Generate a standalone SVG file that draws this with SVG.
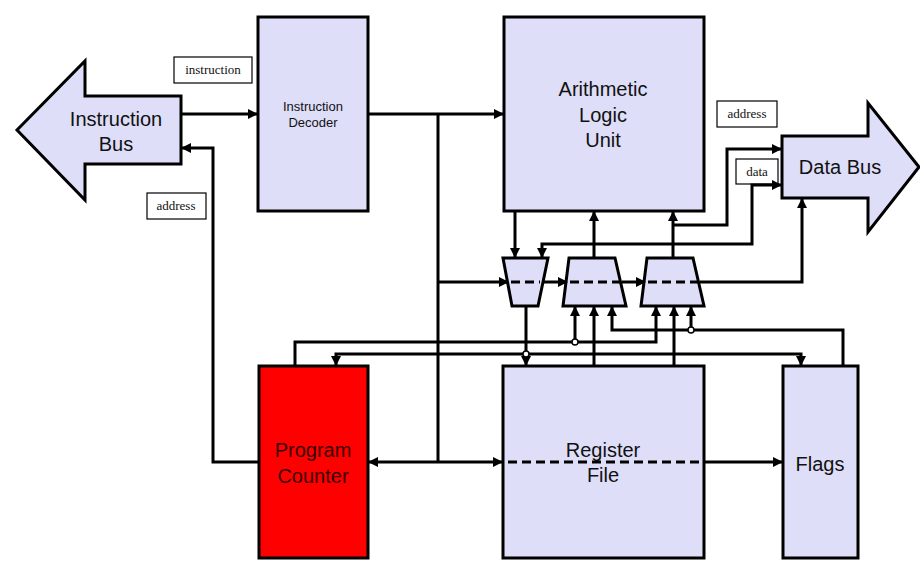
<svg xmlns="http://www.w3.org/2000/svg" width="920" height="572" viewBox="0 0 920 572">
<style>
.box{fill:#dedef8;stroke:#000;stroke-width:3}
.pc{fill:#ff0000;stroke:#000;stroke-width:3}
.lbl{fill:#fff;stroke:#000;stroke-width:1.2}
.t{font-family:"Liberation Sans",Arial,sans-serif;fill:#111;text-anchor:middle}
.s{font-family:"Liberation Serif","Times New Roman",serif;font-size:13px;fill:#111;text-anchor:middle}
.w{fill:none;stroke:#000;stroke-width:3}
.a{marker-end:url(#ah)}
.b{marker-start:url(#ah);marker-end:url(#ah)}
.d{fill:none;stroke:#000;stroke-width:3;stroke-dasharray:9 5}
.j{fill:#fff;stroke:#000;stroke-width:1.5}
</style>
<defs>
<marker id="ah" viewBox="0 0 10 10" refX="9" refY="5" markerWidth="10" markerHeight="10" markerUnits="userSpaceOnUse" orient="auto-start-reverse">
<path d="M0,0 L10,5 L0,10 z" fill="#000"/>
</marker>
</defs>
<rect width="920" height="572" fill="#fff"/>

<g id="instruction-bus">
<polygon class="box" points="17,130 85,61 85,96 181,96 181,164 85,164 85,200"/>
<text class="t" font-size="20" x="116" y="126">Instruction</text>
<text class="t" font-size="20" x="116" y="151">Bus</text>
</g>

<g id="instruction-decoder">
<rect class="box" x="258" y="17" width="110" height="194"/>
<text class="t" font-size="13" x="313" y="111">Instruction</text>
<text class="t" font-size="13" x="313" y="127">Decoder</text>
</g>

<g id="alu">
<rect class="box" x="504" y="17" width="200" height="194"/>
<text class="t" font-size="20" x="603" y="96">Arithmetic</text>
<text class="t" font-size="20" x="603" y="122">Logic</text>
<text class="t" font-size="20" x="603" y="147">Unit</text>
</g>

<g id="data-bus">
<polygon class="box" points="782,136 868,136 868,103 919,167 868,232 868,198 782,198"/>
<text class="t" font-size="20" x="840" y="174">Data Bus</text>
</g>

<g id="program-counter">
<rect class="pc" x="259" y="366" width="109" height="192"/>
<text class="t" font-size="20" x="313" y="457" style="fill:#3a0000">Program</text>
<text class="t" font-size="20" x="313" y="483" style="fill:#3a0000">Counter</text>
</g>

<g id="register-file">
<rect class="box" x="503" y="366" width="201" height="192"/>
<text class="t" font-size="20" x="603" y="457">Register</text>
<text class="t" font-size="20" x="603" y="482">File</text>
</g>

<g id="flags">
<rect class="box" x="783" y="366" width="75" height="192"/>
<text class="t" font-size="20" x="820" y="471">Flags</text>
</g>

<g id="mux1">
<polygon class="box" points="503,258 548,258 538,306 512,306"/>
</g>
<g id="mux2">
<polygon class="box" points="569,258 615,258 626,306 563,306"/>
</g>
<g id="mux3">
<polygon class="box" points="647,258 693,258 704,306 641,306"/>
</g>

<g id="labels">
<rect class="lbl" x="174" y="57" width="78" height="26"/>
<text class="s" x="213" y="74">instruction</text>
<rect class="lbl" x="147" y="193" width="59" height="26"/>
<text class="s" x="176" y="210">address</text>
<rect class="lbl" x="717" y="101" width="60" height="26"/>
<text class="s" x="747" y="118">address</text>
<rect class="lbl" x="736" y="159" width="42" height="25"/>
<text class="s" x="757" y="176">data</text>
</g>

<g id="connectors">
<path class="w a" d="M181,114 H257"/>
<path class="w a" d="M259,462 H213 V148 H182"/>
<path class="w a" d="M368,114 H503"/>
<path class="w" d="M438,114 V462"/>
<path class="w a" d="M438,282 H508"/>
<path class="w b" d="M369,462 H502"/>
<path class="d" d="M508,462 H704"/>
<path class="w a" d="M704,462 H782"/>
<path class="w a" d="M515,211 V257"/>
<path class="w b" d="M542,257 V244 H752 V185 H781"/>
<path class="d" d="M511,282 H540"/>
<path class="w a" d="M543,282 H567"/>
<path class="d" d="M570,282 H622"/>
<path class="w a" d="M622,282 H645"/>
<path class="d" d="M648,282 H700"/>
<path class="w a" d="M700,282 H802 V199"/>
<path class="w a" d="M594,258 V212"/>
<path class="w a" d="M673,258 V212"/>
<path class="w a" d="M673,225 H727 V149 H781"/>
<path class="w a" d="M526,306 V365"/>
<path class="w a" d="M594,366 V307"/>
<path class="w a" d="M674,366 V307"/>
<path class="w a" d="M295,366 V342 H656 V307"/>
<path class="w a" d="M575,342 V307"/>
<path class="w a" d="M843,366 V330 H612 V307"/>
<path class="w a" d="M691,330 V307"/>
<path class="w a" d="M526,354 H336 V365"/>
<path class="w a" d="M526,354 H801 V365"/>
<circle class="j" cx="575" cy="342" r="3"/>
<circle class="j" cx="691" cy="330" r="3"/>
<circle class="j" cx="526" cy="354" r="3"/>
</g>
</svg>
